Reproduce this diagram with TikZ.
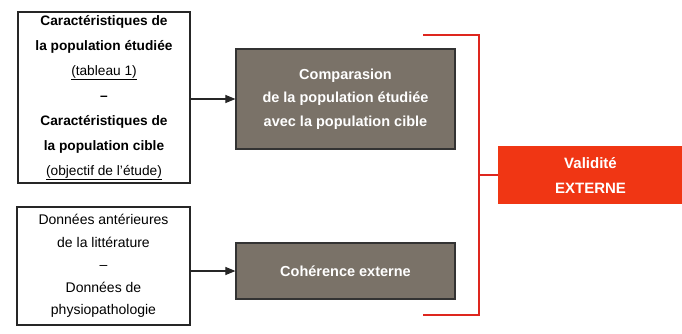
\documentclass[tikz,border=0pt]{standalone}
\usepackage{fontspec}
\setmainfont{Liberation Sans}
\usepackage{xcolor}
\usetikzlibrary{arrows.meta}
\definecolor{boxgray}{RGB}{122,114,104}
\definecolor{validred}{RGB}{240,54,20}
\definecolor{bracketred}{RGB}{222,38,30}

\tikzset{
  srcbox/.style={draw=black!85, line width=1.6pt, align=center, inner sep=0pt,
                 font=\fontsize{13.7}{25}\selectfont},
  graybox/.style={draw=black!80, line width=1.2pt, fill=boxgray, text=white,
                  align=center, inner sep=0pt, font=\bfseries\fontsize{14.5}{23.5}\selectfont},
  redbox/.style={fill=validred, text=white, align=center, inner sep=0pt,
                 font=\bfseries\fontsize{15}{25}\selectfont},
  feed/.style={line width=1.1pt, black!85, -{Triangle[length=10pt,width=8pt]}},
  bracket/.style={bracketred, line width=1.8pt}
}

\begin{document}
\begin{tikzpicture}[x=1pt,y=1pt]
  \useasboundingbox (0,0) rectangle (682,-334);

  % left boxes
  \node[srcbox, minimum width=172pt, minimum height=171pt] (caract) at (104,-97.5)
    {\textbf{Caractéristiques de}\\ \textbf{la population étudiée}\\ \underline{(tableau 1)}\\
     \textbf{–}\\ \textbf{Caractéristiques de}\\ \textbf{la population cible}\\ \underline{(objectif de l'étude)}};
  \node[srcbox, minimum width=173pt, minimum height=118pt,
        font=\fontsize{14}{22.5}\selectfont] (donnees) at (103.5,-266)
    {Données antérieures\\ de la littérature\\ –\\ Données de\\ physiopathologie};

  % grey boxes
  \node[graybox, minimum width=219pt, minimum height=100pt] (compar) at (345.5,-99)
    {Comparasion\\ de la population étudiée\\ avec la population cible};
  \node[graybox, minimum width=219pt, minimum height=56pt] (coher) at (345.5,-271)
    {Cohérence externe};

  % red box
  \node[redbox, minimum width=185pt, minimum height=58pt] (valid) at (590.5,-175)
    {Validité\\ EXTERNE};

  % arrows
  \draw[feed] (caract.east |- compar.west) -- (compar.west);
  \draw[feed] (donnees.east |- coher.west) -- (coher.west);

  % bracket
  \coordinate (brtop) at (423,-35);
  \coordinate (brbot) at (423,-315);
  \coordinate (brmid) at (479,-175);
  \draw[bracket] (brtop) -| (brmid) |- (brbot);
  \draw[bracket] (brmid) -- (valid.west);
\end{tikzpicture}
\end{document}
